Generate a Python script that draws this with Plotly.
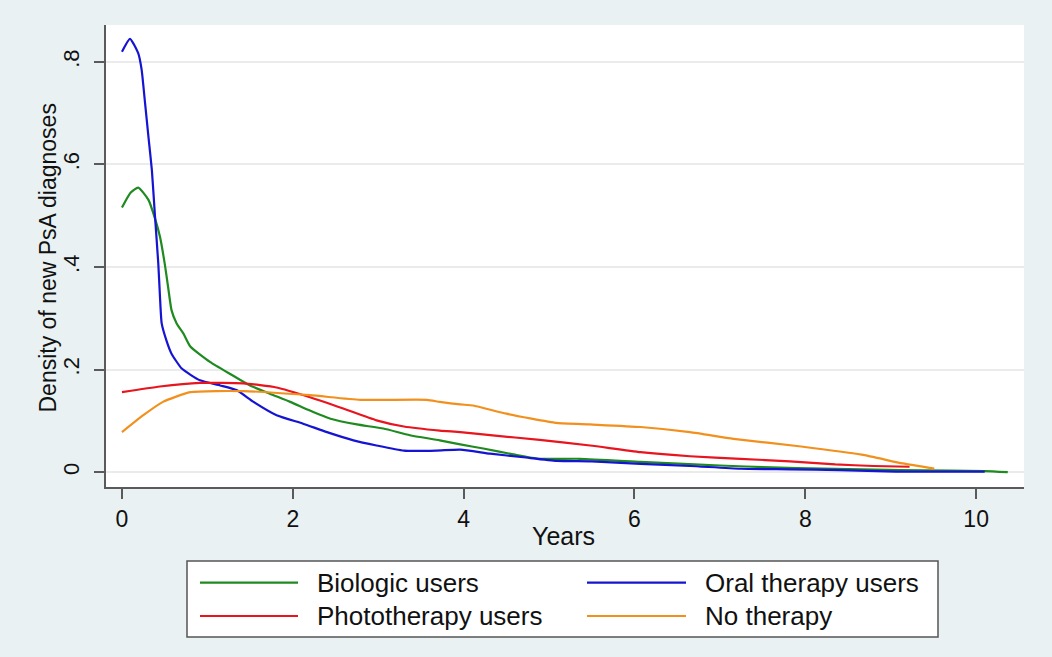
import plotly.graph_objects as go

# ---- data ----
bio_x = [0, 0.1, 0.19, 0.31, 0.386, 0.445, 0.5, 0.54, 0.58, 0.64, 0.72, 0.8, 1.03, 1.26, 1.5, 1.73,
         1.97, 2.2, 2.44, 2.75, 3.06, 3.37, 3.72, 3.96, 4.23, 4.6, 4.89, 5.36, 6.07, 6.7, 7.3, 7.9,
         8.5, 9.1, 9.7, 10.1, 10.37]
bio_y = [0.516, 0.545, 0.555, 0.531, 0.495, 0.459, 0.407, 0.361, 0.316, 0.29, 0.27, 0.245, 0.215,
         0.192, 0.169, 0.153, 0.137, 0.12, 0.104, 0.093, 0.085, 0.072, 0.062, 0.054, 0.046, 0.034,
         0.026, 0.026, 0.020, 0.015, 0.011, 0.008, 0.006, 0.004, 0.003, 0.002, 0.0]

oral_x = [0, 0.094, 0.19, 0.23, 0.27, 0.31, 0.35, 0.386, 0.425, 0.445, 0.465, 0.52, 0.58, 0.70,
          0.913, 1.15, 1.34, 1.54, 1.81, 2.12, 2.40, 2.71, 2.98, 3.30, 3.68, 3.96, 4.31, 4.7,
          5.09, 5.5, 6.07, 6.65, 7.24, 7.82, 8.4, 9.06, 9.6, 10.1]
oral_y = [0.82, 0.845, 0.817, 0.785, 0.72, 0.654, 0.589, 0.5, 0.407, 0.342, 0.29, 0.257, 0.231,
          0.202, 0.179, 0.169, 0.160, 0.137, 0.111, 0.0945, 0.078, 0.062, 0.052, 0.042, 0.042,
          0.044, 0.036, 0.029, 0.022, 0.021, 0.016, 0.012, 0.0066, 0.0055, 0.004, 0.001, 0.001,
          0.001]

photo_x = [0, 0.445, 0.913, 1.42, 1.81, 2.2, 2.59, 2.98, 3.3, 3.72, 3.96, 4.31, 4.89, 5.48, 6.07,
           6.65, 7.24, 7.82, 8.35, 8.8, 9.22]
photo_y = [0.156, 0.167, 0.174, 0.173, 0.165, 0.146, 0.124, 0.101, 0.089, 0.081, 0.078, 0.072,
           0.063, 0.052, 0.039, 0.031, 0.026, 0.021, 0.015, 0.012, 0.0105]

none_x = [0, 0.25, 0.48, 0.8, 1.42, 2.2, 2.79, 3.57, 3.72, 3.96, 4.11, 4.5, 5.09, 5.48, 6.07, 6.65,
          7.16, 7.95, 8.66, 9.14, 9.51]
none_y = [0.078, 0.111, 0.137, 0.156, 0.158, 0.150, 0.141, 0.141, 0.137, 0.132, 0.130, 0.114,
          0.096, 0.093, 0.088, 0.078, 0.065, 0.050, 0.034, 0.017, 0.007]

series_names = ["Biologic users", "Oral therapy users", "Phototherapy users", "No therapy"]
colors = ["#1f8a1f", "#1414d2", "#e8141e", "#f2901e"]

x_ticks = [0, 2, 4, 6, 8, 10]
y_tick_vals = [0, 0.2, 0.4, 0.6, 0.8]
y_tick_text = ["0", ".2", ".4", ".6", ".8"]

FONT = "Liberation Sans, Arial, sans-serif"
BG = "#e9f1f3"

W, H = 1052, 657
L, R, T, B = 106, 28, 25, 170
PW, PH = W - L - R, H - T - B


def px_x(p):
    return (p - L) / PW


def px_y(p):
    return (H - B - p) / PH


fig = go.Figure()
data = [(bio_x, bio_y), (oral_x, oral_y), (photo_x, photo_y), (none_x, none_y)]
for (xs, ys), name, c in zip(data, series_names, colors):
    fig.add_trace(go.Scatter(x=xs, y=ys, mode="lines", name=name,
                             line=dict(color=c, width=2.2, shape="spline", smoothing=0.5),
                             showlegend=False))

# custom Stata-style legend box
shapes = [dict(type="rect", xref="paper", yref="paper",
               x0=px_x(187), x1=px_x(938), y0=px_y(637), y1=px_y(561),
               line=dict(color="#555555", width=1.5), fillcolor="white", layer="below")]
annotations = []
rows = [582.7, 616]
cols = [(200, 298, 315), (587, 686, 703)]
order = [(0, 0), (0, 1), (1, 0), (1, 1)]  # (row, col) for each series
for i, (r, cidx) in enumerate(order):
    lx0, lx1, tx = cols[cidx]
    yy = px_y(rows[r])
    shapes.append(dict(type="line", xref="paper", yref="paper", x0=px_x(lx0), x1=px_x(lx1),
                       y0=yy, y1=yy, line=dict(color=colors[i], width=2.2)))
    annotations.append(dict(xref="paper", yref="paper", x=px_x(tx), y=yy, text=series_names[i],
                            showarrow=False, xanchor="left", yanchor="middle",
                            font=dict(family=FONT, size=26, color="#111111")))

# axis titles
annotations.append(dict(xref="paper", yref="paper", x=px_x(563.5), y=px_y(536), text="Years",
                        showarrow=False, xanchor="center", yanchor="middle",
                        font=dict(family=FONT, size=25, color="#111111")))
annotations.append(dict(xref="paper", yref="paper", x=px_x(47), y=px_y(258.5),
                        text="Density of new PsA diagnoses", textangle=-90,
                        showarrow=False, xanchor="center", yanchor="middle",
                        font=dict(family=FONT, size=23, color="#111111")))

fig.update_layout(
    width=W, height=H,
    margin=dict(l=L, r=R, t=T, b=B),
    paper_bgcolor=BG, plot_bgcolor="white",
    shapes=shapes, annotations=annotations,
    showlegend=False,
    xaxis=dict(range=[-0.187, 10.56], tickvals=x_ticks, showgrid=False, zeroline=False,
               showline=True, linecolor="#5a5a5a", linewidth=2,
               ticks="outside", ticklen=10, tickwidth=1.5, tickcolor="#5a5a5a",
               tickfont=dict(family=FONT, size=23, color="#111111")),
    yaxis=dict(range=[-0.029, 0.872], tickvals=y_tick_vals, ticktext=y_tick_text,
               showgrid=True, gridcolor="#ebebeb", gridwidth=1.5, zeroline=False,
               showline=True, linecolor="#5a5a5a", linewidth=2,
               ticks="outside", ticklen=10, tickwidth=1.5, tickcolor="#5a5a5a",
               tickangle=-90, ticklabelstandoff=6,
               tickfont=dict(family=FONT, size=22, color="#111111")),
)

fig.write_html("out.html", config={"displayModeBar": False},
               post_script="document.body.style.margin='0px';document.body.style.padding='0px';")
